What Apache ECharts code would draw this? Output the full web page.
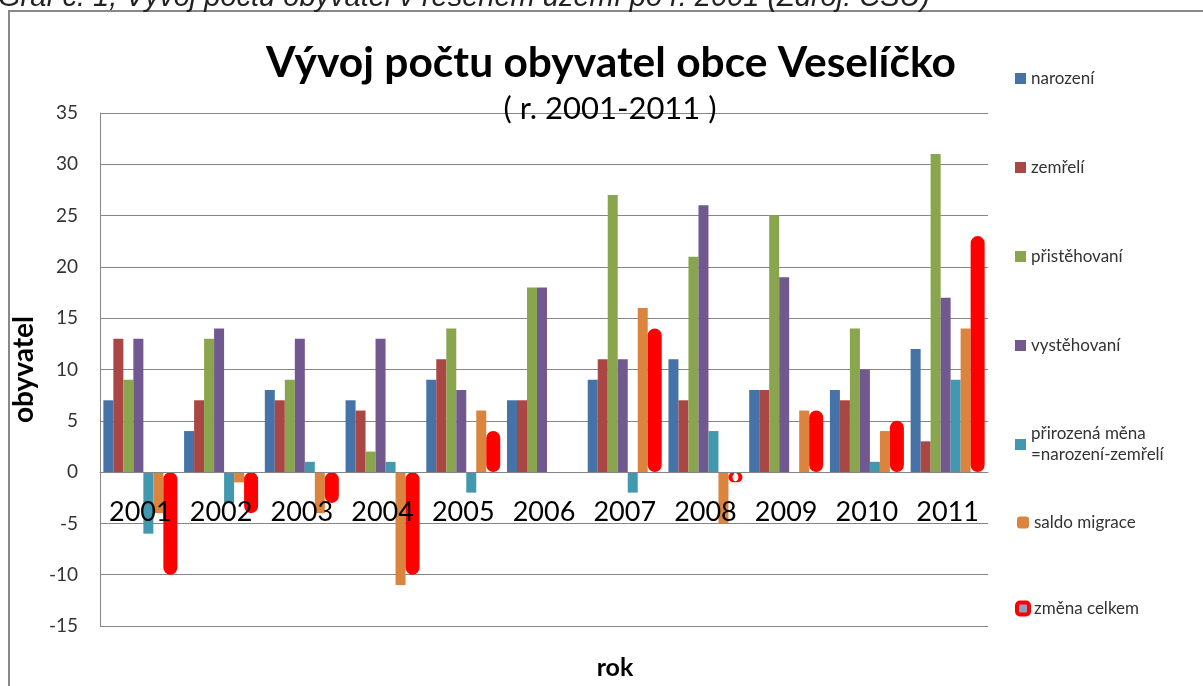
<!DOCTYPE html>
<html>
<head>
<meta charset="utf-8">
<script src="https://cdn.jsdelivr.net/npm/echarts@6/dist/echarts.min.js"></script>
<style>
  html, body { margin: 0; padding: 0; background: #fff; }
  #chart { width: 1203px; height: 686px; }
</style>
</head>
<body>
<div id="chart"></div>
<script>
const years = ['2001', '2002', '2003', '2004', '2005', '2006', '2007', '2008', '2009', '2010', '2011']
const narozeni = [7, 4, 8, 7, 9, 7, 9, 11, 8, 8, 12]
const zemreli = [13, 7, 7, 6, 11, 7, 11, 7, 8, 7, 3]
const pristehovani = [9, 13, 9, 2, 14, 18, 27, 21, 25, 14, 31]
const vystehovani = [13, 14, 13, 13, 8, 18, 11, 26, 19, 10, 17]
const prirozenaMena = [-6, -3, 1, 1, -2, 0, -2, 4, 0, 1, 9]
const saldoMigrace = [-4, -1, -4, -11, 6, 0, 16, -5, 6, 4, 14]
// 2006: no mark drawn in the picture
const zmenaCelkem = [-10, -4, -3, -10, 4, null, 14, -1, 6, 5, 23]
const yTicks = [-15, -10, -5, 0, 5, 10, 15, 20, 25, 30, 35]

const chart = echarts.init(document.getElementById('chart'))

const font = 'Lato'
const bar = (name, data, color) => ({
  name,
  type: 'bar',
  data,
  barWidth: 10,
  barGap: '0%',
  itemStyle: { color }
})

const legendText = { fontFamily: font, fontSize: 17, color: '#333' }

const option = {
  animation: false,
  backgroundColor: '#fff',
  title: [
    {
      text: 'Vývoj počtu obyvatel obce Veselíčko',
      left: 606,
      top: 37,
      textAlign: 'center',
      textStyle: { fontFamily: font, fontSize: 42.5, fontWeight: 'bold', color: '#000' }
    },
    {
      text: '( r. 2001-2011 )',
      left: 605,
      top: 88,
      textAlign: 'center',
      textStyle: { fontFamily: font, fontSize: 31, fontWeight: 'normal', color: '#000' }
    }
  ],
  graphic: [
    {
      type: 'rect',
      shape: { x: 9, y: 11, width: 1250, height: 720 },
      style: { fill: 'none', stroke: '#888', lineWidth: 2 },
      silent: true
    },
    {
      type: 'text',
      x: -2,
      y: 12,
      style: {
        text: 'Graf č. 1, Vývoj počtu obyvatel v řešeném území po r. 2001 (Zdroj: ČSÚ)',
        font: 'italic 29px "Liberation Sans"',
        fill: '#222',
        verticalAlign: 'bottom'
      },
      silent: true
    },
    {
      type: 'text',
      x: 615,
      y: 668,
      style: {
        text: 'rok',
        font: 'bold 25px Lato',
        fill: '#000',
        align: 'center',
        verticalAlign: 'middle'
      },
      silent: true
    }
  ],
  legend: [
    {
      orient: 'vertical',
      left: 1010,
      top: 65,
      itemWidth: 11,
      itemHeight: 11,
      itemGap: 72,
      icon: 'rect',
      textStyle: legendText,
      data: ['narození', 'zemřelí', 'přistěhovaní', 'vystěhovaní']
    },
    {
      orient: 'vertical',
      left: 1010,
      top: 408,
      itemWidth: 11,
      itemHeight: 11,
      icon: 'rect',
      textStyle: Object.assign({}, legendText, { lineHeight: 21, padding: [21, 0, 0, 0] }),
      data: ['přirozená měna\n=narození-zemřelí']
    },
    {
      orient: 'vertical',
      left: 1010,
      top: 509,
      itemWidth: 12,
      itemHeight: 12,
      itemGap: 69,
      icon: 'roundRect',
      textStyle: legendText,
      data: [
        'saldo migrace',
        { name: 'změna celkem', itemStyle: { borderWidth: 4, borderColor: '#ff0000', color: '#8f9fc4' } }
      ]
    }
  ],
  grid: {
    left: 100,
    right: 215,
    top: 113,
    bottom: 60
  },
  xAxis: {
    type: 'category',
    data: years,
    offset: -154,
    z: 10,
    axisLine: { onZero: false, lineStyle: { color: '#868686' } },
    axisTick: { show: false },
    axisLabel: {
      fontFamily: font,
      fontSize: 27,
      color: '#000',
      margin: 27,
      interval: 0,
      hideOverlap: false
    }
  },
  yAxis: {
    type: 'value',
    min: yTicks[0],
    max: yTicks[yTicks.length - 1],
    interval: 5,
    name: 'obyvatel',
    nameLocation: 'middle',
    nameGap: 40,
    nameTextStyle: { fontFamily: font, fontSize: 28, fontWeight: 'bold', color: '#000' },
    axisLine: { show: true, lineStyle: { color: '#868686' } },
    axisTick: { show: false },
    axisLabel: { fontFamily: font, fontSize: 19, color: '#333', margin: 22 },
    splitLine: { lineStyle: { color: '#868686', width: 1 } }
  },
  series: [
    bar('narození', narozeni, '#4572A7'),
    bar('zemřelí', zemreli, '#AA4643'),
    bar('přistěhovaní', pristehovani, '#89A54E'),
    bar('vystěhovaní', vystehovani, '#71588F'),
    bar('přirozená měna\n=narození-zemřelí', prirozenaMena, '#4198AF'),
    bar('saldo migrace', saldoMigrace, '#DB843D'),
    {
      name: 'změna celkem',
      type: 'bar',
      data: zmenaCelkem,
      barWidth: 14,
      barGap: '0%',
      z: 3,
      itemStyle: {
        color: '#8f9fc4',
        borderColor: '#ff0000',
        borderWidth: 10,
        borderRadius: 4
      }
    }
  ]
}

chart.setOption(option)
</script>
</body>
</html>
